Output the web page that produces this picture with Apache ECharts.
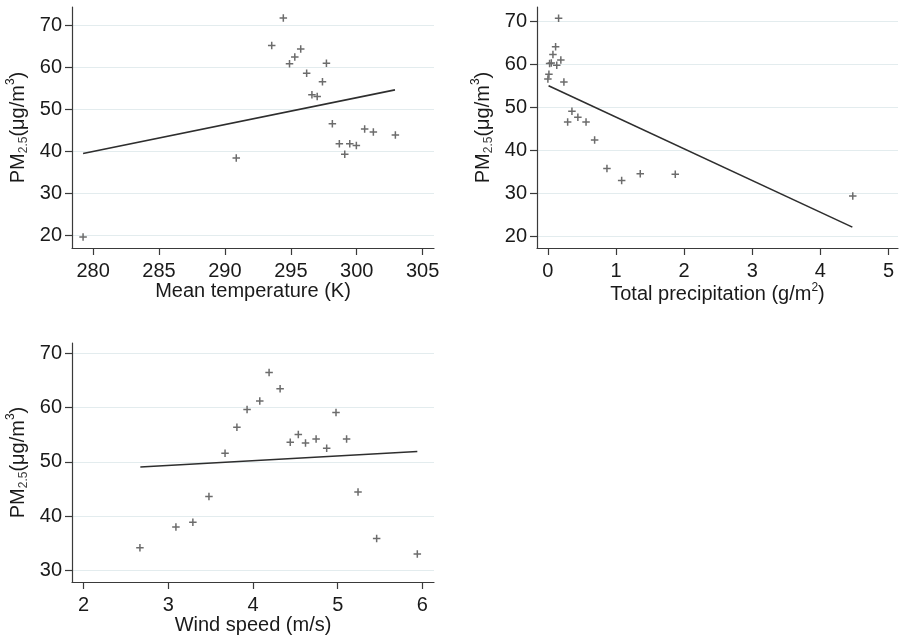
<!DOCTYPE html>
<html>
<head>
<meta charset="utf-8">
<title>PM2.5 vs meteorological factors</title>
<script src="https://cdn.jsdelivr.net/npm/echarts@6/dist/echarts.min.js"></script>
<style>
  html, body { margin: 0; padding: 0; background: #ffffff; }
  #chart { width: 903px; height: 638px; }
</style>
</head>
<body>
<div id="chart"></div>
<script>
// ---- Mean temperature (K) vs PM2.5 ----
const tempX = [279.24, 290.86, 293.55, 294.43, 294.9, 295.3, 295.75, 296.2, 296.6, 297.0,
               297.4, 297.7, 298.15, 298.68, 299.09, 299.47, 299.97, 300.6, 301.26, 302.93];
const tempY = [19.6, 38.4, 65.2, 71.8, 60.9, 62.5, 64.4, 58.6, 53.5, 53.1,
               56.6, 61.0, 46.6, 41.8, 39.3, 41.8, 41.4, 45.3, 44.6, 43.9];
const tempFitX = [279.24, 302.9];
const tempFitY = [39.5, 54.65];
const tempXTicks = [280, 285, 290, 295, 300, 305];
const tempYTicks = [20, 30, 40, 50, 60, 70];

// ---- Total precipitation (g/m2) vs PM2.5 ----
const precX = [0.157, 0.113, 0.074, 0.025, 0.05, 0.19, 0.13, 0.015, 0.0, 0.235,
               0.353, 0.44, 0.29, 0.56, 0.686, 0.867, 1.083, 1.356, 1.87, 4.476];
const precY = [70.7, 64.1, 62.3, 60.2, 60.3, 61.0, 59.8, 57.7, 56.6, 55.9,
               49.1, 47.7, 46.6, 46.6, 42.4, 35.8, 33.0, 34.6, 34.5, 29.4];
const precFitX = [0.01, 4.47];
const precFitY = [55.0, 22.2];
const precXTicks = [0, 1, 2, 3, 4, 5];
const precYTicks = [20, 30, 40, 50, 60, 70];

// ---- Wind speed (m/s) vs PM2.5 ----
const windX = [2.665, 3.09, 3.29, 3.48, 3.67, 3.81, 3.93, 4.08, 4.19, 4.32,
               4.44, 4.535, 4.62, 4.745, 4.87, 4.98, 5.105, 5.24, 5.46, 5.94];
const windY = [34.2, 38.0, 38.9, 43.6, 51.6, 56.4, 59.65, 61.2, 66.45, 63.45,
               53.6, 55.05, 53.5, 54.2, 52.5, 59.1, 54.2, 44.45, 35.9, 33.05];
const windFitX = [2.67, 5.94];
const windFitY = [49.05, 51.9];
const windXTicks = [2, 3, 4, 5, 6];
const windYTicks = [30, 40, 50, 60, 70];

const FONT = "'Liberation Sans', Arial, sans-serif";
const AXIS_COLOR = '#3a3a3a';
const TEXT_COLOR = '#1a1a1a';
const GRID_COLOR = '#e3ecee';
const MARK_COLOR = '#6c6c6c';
const FIT_COLOR = '#2e2e2e';
const PLUS = 'path://M4,0H6V4H10V6H6V10H4V6H0V4H4Z';

const yName = '{a|PM}{s|2.5}{a|(μg/m}{p|3}{a|)}';
const nameRich = {
  a: { fontSize: 20, fontFamily: FONT, color: TEXT_COLOR, lineHeight: 26, verticalAlign: 'middle' },
  s: { fontSize: 12, fontFamily: FONT, color: '#444', lineHeight: 12, verticalAlign: 'bottom', padding: [0, 0, 1, 0] },
  p: { fontSize: 12, fontFamily: FONT, color: TEXT_COLOR, lineHeight: 12, verticalAlign: 'top' }
};

function zip(xs, ys) { return xs.map((x, i) => [x, ys[i]]); }

function xAxisCfg(idx, min, max, ticks, name, gap) {
  return {
    type: 'value', gridIndex: idx, min: min, max: max,
    name: name, nameLocation: 'middle', nameGap: gap,
    nameTextStyle: { fontSize: 20, fontFamily: FONT, color: TEXT_COLOR, rich: nameRich },
    axisLine: { show: true, onZero: false, lineStyle: { color: AXIS_COLOR, width: 1.2 } },
    axisTick: { show: true, length: 7, customValues: ticks, lineStyle: { color: AXIS_COLOR, width: 1.2 } },
    axisLabel: { fontSize: 20, fontFamily: FONT, color: TEXT_COLOR, margin: 13, customValues: ticks },
    splitLine: { show: false }
  };
}

function yAxisCfg(idx, min, max, ticks) {
  return {
    type: 'value', gridIndex: idx, min: min, max: max,
    name: yName, nameLocation: 'middle', nameGap: 41,
    nameTextStyle: { rich: nameRich },
    axisLine: { show: true, onZero: false, lineStyle: { color: AXIS_COLOR, width: 1.2 } },
    axisTick: { show: true, length: 7, customValues: ticks, lineStyle: { color: AXIS_COLOR, width: 1.2 } },
    axisLabel: { fontSize: 20, fontFamily: FONT, color: TEXT_COLOR, margin: 10, customValues: ticks },
    splitLine: { show: true, lineStyle: { color: GRID_COLOR, width: 1 } }
  };
}

function scatter(idx, xs, ys) {
  return {
    type: 'scatter', xAxisIndex: idx, yAxisIndex: idx,
    data: zip(xs, ys), symbol: PLUS, symbolSize: 7.5,
    itemStyle: { color: MARK_COLOR, opacity: 1 },
    silent: true, z: 3
  };
}

function fit(idx, xs, ys) {
  return {
    type: 'line', xAxisIndex: idx, yAxisIndex: idx,
    data: zip(xs, ys), showSymbol: false, symbol: 'none',
    lineStyle: { color: FIT_COLOR, width: 1.6 },
    silent: true, z: 2
  };
}

const chart = echarts.init(document.getElementById('chart'), null, { renderer: 'canvas' });
chart.setOption({
  backgroundColor: '#ffffff',
  animation: false,
  grid: [
    { left: 72, top: 7, width: 362, height: 241 },
    { left: 537, top: 7, width: 361, height: 241 },
    { left: 72, top: 343, width: 362, height: 239 }
  ],
  xAxis: [
    xAxisCfg(0, 278.4, 305.86, tempXTicks, 'Mean temperature (K)', 31),
    xAxisCfg(1, -0.16, 5.14, precXTicks, '{a|Total precipitation (g/m}{p|2}{a|)}', 27),
    xAxisCfg(2, 1.863, 6.137, windXTicks, 'Wind speed (m/s)', 28)
  ],
  yAxis: [
    yAxisCfg(0, 16.97, 74.4, tempYTicks),
    yAxisCfg(1, 17.35, 73.3, precYTicks),
    yAxisCfg(2, 27.87, 71.9, windYTicks)
  ],
  series: [
    fit(0, tempFitX, tempFitY), scatter(0, tempX, tempY),
    fit(1, precFitX, precFitY), scatter(1, precX, precY),
    fit(2, windFitX, windFitY), scatter(2, windX, windY)
  ]
});
</script>
</body>
</html>
